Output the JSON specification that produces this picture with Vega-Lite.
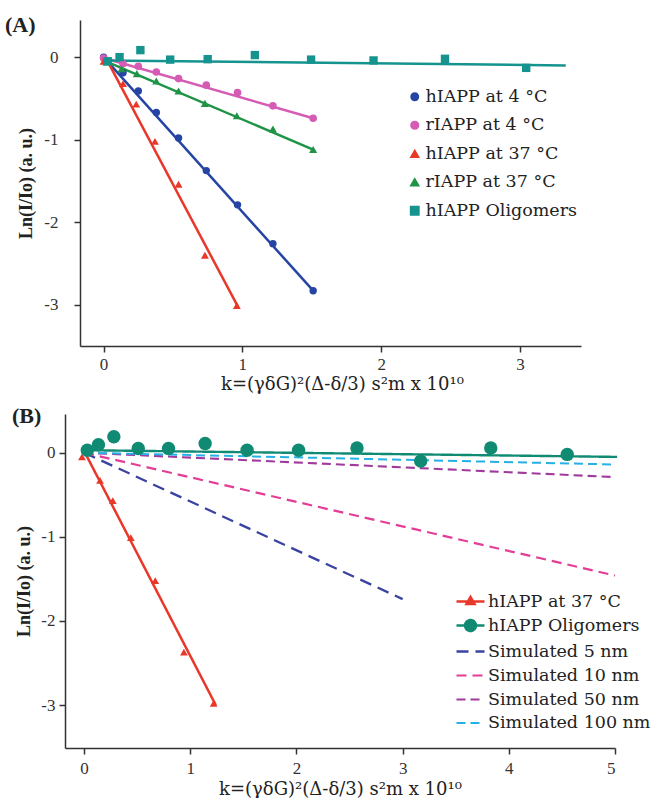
{
  "$schema": "https://vega.github.io/schema/vega-lite/v6.json",
  "background": "white",
  "padding": {"left": 5, "top": 14, "right": 0, "bottom": 0},
  "spacing": 12,
  "config": {
    "view": {"stroke": null},
    "axis": {
      "domainColor": "#333", "domainWidth": 1.5, "tickColor": "#333", "tickWidth": 1.5, "tickSize": 6,
      "grid": false, "labelFont": "Liberation Serif", "labelFontSize": 17, "labelColor": "#333",
      "titleFont": "Liberation Serif", "titleFontSize": 17, "titleColor": "#222"
    },
    "legend": {"labelFont": "DejaVu Serif", "labelFontSize": 17.5, "labelColor": "#222", "labelLimit": 300}
  },
  "resolve": {
    "scale": {"color": "independent", "shape": "independent", "size": "independent", "strokeDash": "independent", "strokeWidth": "independent"},
    "legend": {"color": "independent", "shape": "independent"}
  },
  "datasets": {
    "pointsA": [
      {"series": "hIAPP at 4 °C", "k": 0, "ln": 0},
      {"series": "hIAPP at 4 °C", "k": 0.14, "ln": -0.19},
      {"series": "hIAPP at 4 °C", "k": 0.25, "ln": -0.41},
      {"series": "hIAPP at 4 °C", "k": 0.38, "ln": -0.67},
      {"series": "hIAPP at 4 °C", "k": 0.54, "ln": -0.98},
      {"series": "hIAPP at 4 °C", "k": 0.74, "ln": -1.375},
      {"series": "hIAPP at 4 °C", "k": 0.965, "ln": -1.79},
      {"series": "hIAPP at 4 °C", "k": 1.22, "ln": -2.26},
      {"series": "hIAPP at 4 °C", "k": 1.51, "ln": -2.83},
      {"series": "rIAPP at 4 °C", "k": 0, "ln": -0.01},
      {"series": "rIAPP at 4 °C", "k": 0.14, "ln": -0.08},
      {"series": "rIAPP at 4 °C", "k": 0.25, "ln": -0.11},
      {"series": "rIAPP at 4 °C", "k": 0.38, "ln": -0.18},
      {"series": "rIAPP at 4 °C", "k": 0.54, "ln": -0.26},
      {"series": "rIAPP at 4 °C", "k": 0.74, "ln": -0.34},
      {"series": "rIAPP at 4 °C", "k": 0.965, "ln": -0.43},
      {"series": "rIAPP at 4 °C", "k": 1.22, "ln": -0.59},
      {"series": "rIAPP at 4 °C", "k": 1.51, "ln": -0.74},
      {"series": "hIAPP at 37 °C", "k": 0, "ln": -0.05},
      {"series": "hIAPP at 37 °C", "k": 0.14, "ln": -0.32},
      {"series": "hIAPP at 37 °C", "k": 0.235, "ln": -0.57},
      {"series": "hIAPP at 37 °C", "k": 0.37, "ln": -1.02},
      {"series": "hIAPP at 37 °C", "k": 0.54, "ln": -1.54},
      {"series": "hIAPP at 37 °C", "k": 0.73, "ln": -2.4},
      {"series": "hIAPP at 37 °C", "k": 0.96, "ln": -3.01},
      {"series": "rIAPP at 37 °C", "k": 0.02, "ln": -0.06},
      {"series": "rIAPP at 37 °C", "k": 0.13, "ln": -0.14},
      {"series": "rIAPP at 37 °C", "k": 0.24, "ln": -0.2},
      {"series": "rIAPP at 37 °C", "k": 0.38, "ln": -0.29},
      {"series": "rIAPP at 37 °C", "k": 0.54, "ln": -0.41},
      {"series": "rIAPP at 37 °C", "k": 0.73, "ln": -0.56},
      {"series": "rIAPP at 37 °C", "k": 0.96, "ln": -0.71},
      {"series": "rIAPP at 37 °C", "k": 1.22, "ln": -0.87},
      {"series": "rIAPP at 37 °C", "k": 1.51, "ln": -1.12},
      {"series": "hIAPP Oligomers", "k": 0.03, "ln": -0.05},
      {"series": "hIAPP Oligomers", "k": 0.115, "ln": 0.0},
      {"series": "hIAPP Oligomers", "k": 0.265, "ln": 0.085},
      {"series": "hIAPP Oligomers", "k": 0.48, "ln": -0.03},
      {"series": "hIAPP Oligomers", "k": 0.75, "ln": -0.025},
      {"series": "hIAPP Oligomers", "k": 1.09, "ln": 0.025},
      {"series": "hIAPP Oligomers", "k": 1.495, "ln": -0.03},
      {"series": "hIAPP Oligomers", "k": 1.945, "ln": -0.04},
      {"series": "hIAPP Oligomers", "k": 2.46, "ln": -0.02},
      {"series": "hIAPP Oligomers", "k": 3.045, "ln": -0.13}
    ],
    "fitA": [
      {"series": "hIAPP at 4 °C", "k": 0, "ln": 0},
      {"series": "hIAPP at 4 °C", "k": 1.51, "ln": -2.83},
      {"series": "rIAPP at 4 °C", "k": 0, "ln": -0.01},
      {"series": "rIAPP at 4 °C", "k": 1.51, "ln": -0.74},
      {"series": "hIAPP at 37 °C", "k": 0.02, "ln": -0.02},
      {"series": "hIAPP at 37 °C", "k": 0.97, "ln": -3.03},
      {"series": "rIAPP at 37 °C", "k": 0, "ln": -0.04},
      {"series": "rIAPP at 37 °C", "k": 1.51, "ln": -1.12},
      {"series": "hIAPP Oligomers", "k": 0, "ln": -0.04},
      {"series": "hIAPP Oligomers", "k": 3.33, "ln": -0.1}
    ],
    "pointsB": [
      {"series": "hIAPP at 37 °C", "k": -0.02, "ln": -0.05},
      {"series": "hIAPP at 37 °C", "k": 0.15, "ln": -0.33},
      {"series": "hIAPP at 37 °C", "k": 0.27, "ln": -0.57},
      {"series": "hIAPP at 37 °C", "k": 0.44, "ln": -1.01},
      {"series": "hIAPP at 37 °C", "k": 0.67, "ln": -1.52},
      {"series": "hIAPP at 37 °C", "k": 0.94, "ln": -2.37},
      {"series": "hIAPP at 37 °C", "k": 1.22, "ln": -2.98},
      {"series": "hIAPP Oligomers", "k": 0.03, "ln": 0.03},
      {"series": "hIAPP Oligomers", "k": 0.135, "ln": 0.095},
      {"series": "hIAPP Oligomers", "k": 0.28, "ln": 0.19},
      {"series": "hIAPP Oligomers", "k": 0.51, "ln": 0.05},
      {"series": "hIAPP Oligomers", "k": 0.795, "ln": 0.05},
      {"series": "hIAPP Oligomers", "k": 1.14, "ln": 0.11},
      {"series": "hIAPP Oligomers", "k": 1.535, "ln": 0.03},
      {"series": "hIAPP Oligomers", "k": 2.02, "ln": 0.03},
      {"series": "hIAPP Oligomers", "k": 2.57, "ln": 0.055},
      {"series": "hIAPP Oligomers", "k": 3.17, "ln": -0.1},
      {"series": "hIAPP Oligomers", "k": 3.83, "ln": 0.055},
      {"series": "hIAPP Oligomers", "k": 4.55, "ln": -0.02}
    ],
    "fitB": [
      {"series": "hIAPP at 37 °C", "k": 0, "ln": 0.02},
      {"series": "hIAPP at 37 °C", "k": 1.24, "ln": -3.0},
      {"series": "hIAPP Oligomers", "k": 0, "ln": 0.03},
      {"series": "hIAPP Oligomers", "k": 5.02, "ln": -0.05},
      {"series": "Simulated 5 nm", "k": 0, "ln": 0},
      {"series": "Simulated 5 nm", "k": 3.0, "ln": -1.74},
      {"series": "Simulated 10 nm", "k": 0, "ln": 0},
      {"series": "Simulated 10 nm", "k": 5.0, "ln": -1.46},
      {"series": "Simulated 50 nm", "k": 0, "ln": 0},
      {"series": "Simulated 50 nm", "k": 5.0, "ln": -0.29},
      {"series": "Simulated 100 nm", "k": 0, "ln": 0},
      {"series": "Simulated 100 nm", "k": 5.0, "ln": -0.14}
    ]
  },
  "vconcat": [
    {
      "width": 501,
      "height": 326,
      "title": {"text": "(A)", "anchor": "start", "frame": "group", "font": "Liberation Serif", "fontSize": 22, "fontWeight": "bold", "color": "#222", "dx": -75, "offset": -17},
      "layer": [
        {
          "data": {"name": "fitA"},
          "mark": {"type": "line", "strokeWidth": 2.5},
          "encoding": {
            "x": {"field": "k", "type": "quantitative", "scale": {"domain": [-0.17, 3.44], "nice": false, "zero": false},
              "axis": {"values": [0, 1, 2, 3], "title": "k=(γδG)²(Δ-δ/3) s²m x 10¹⁰", "titleFont": "DejaVu Serif", "titleFontWeight": "normal", "titleFontSize": 18, "titleX": 262, "labelPadding": 4, "titlePadding": 3, "labelExpr": "'' + datum.value"}},
            "y": {"field": "ln", "type": "quantitative", "scale": {"domain": [-3.5, 0.45], "nice": false, "zero": false},
              "axis": {"values": [0, -1, -2, -3], "title": "Ln(I/Io)  (a. u.)", "titleFontWeight": "bold", "titleFontSize": 18, "labelPadding": 16, "titlePadding": 8, "labelExpr": "'' + datum.value"}},
            "color": {"field": "series", "type": "nominal",
              "scale": {"domain": ["hIAPP at 4 °C", "rIAPP at 4 °C", "hIAPP at 37 °C", "rIAPP at 37 °C", "hIAPP Oligomers"],
                "range": ["#2544a3", "#d55bb5", "#e8382a", "#1f9447", "#15938e"]},
              "legend": {"title": null, "orient": "none", "legendX": 326, "legendY": 68, "symbolSize": 80, "labelOffset": 2, "rowPadding": 9.5, "symbolOpacity": 1}},
            "detail": {"field": "series"}
          }
        },
        {
          "data": {"name": "pointsA"},
          "mark": {"type": "point", "filled": true, "opacity": 1},
          "encoding": {
            "x": {"field": "k", "type": "quantitative"},
            "y": {"field": "ln", "type": "quantitative"},
            "color": {"field": "series", "type": "nominal",
              "legend": {"title": null, "orient": "none", "legendX": 326, "legendY": 68, "symbolSize": 80, "labelOffset": 2, "rowPadding": 9.5, "symbolOpacity": 1}},
            "shape": {"field": "series", "type": "nominal",
              "scale": {"domain": ["hIAPP at 4 °C", "rIAPP at 4 °C", "hIAPP at 37 °C", "rIAPP at 37 °C", "hIAPP Oligomers"],
                "range": ["circle", "circle", "triangle-up", "triangle-up", "square"]},
              "legend": {"title": null, "orient": "none", "legendX": 326, "legendY": 68, "symbolSize": 80, "labelOffset": 2, "rowPadding": 9.5, "symbolOpacity": 1}},
            "size": {"field": "series", "type": "nominal",
              "scale": {"domain": ["hIAPP at 4 °C", "rIAPP at 4 °C", "hIAPP at 37 °C", "rIAPP at 37 °C", "hIAPP Oligomers"],
                "range": [55, 70, 70, 90, 100]},
              "legend": null}
          }
        }
      ]
    },
    {
      "width": 535,
      "height": 334,
      "title": {"text": "(B)", "anchor": "start", "frame": "group", "font": "Liberation Serif", "fontSize": 22, "fontWeight": "bold", "color": "#222", "dx": -68, "offset": -14},
      "layer": [
        {
          "data": {"name": "fitB"},
          "mark": {"type": "line"},
          "encoding": {
            "x": {"field": "k", "type": "quantitative", "scale": {"domain": [-0.18, 5.0], "range": [-15, 535], "nice": false, "zero": false},
              "axis": {"values": [0, 1, 2, 3, 4, 5], "title": "k=(γδG)²(Δ-δ/3) s²m x 10¹⁰", "titleFont": "DejaVu Serif", "titleFontWeight": "normal", "titleFontSize": 18, "labelPadding": 6, "titlePadding": 4, "labelExpr": "'' + datum.value"}},
            "y": {"field": "ln", "type": "quantitative", "scale": {"domain": [-3.51, 0.46], "nice": false, "zero": false},
              "axis": {"values": [0, -1, -2, -3], "offset": 15, "title": "Ln(I/Io)  (a. u.)", "titleFontWeight": "bold", "titleFontSize": 18, "labelPadding": 4, "titlePadding": 7, "labelExpr": "'' + datum.value"}},
            "color": {"field": "series", "type": "nominal",
              "scale": {"domain": ["hIAPP at 37 °C", "hIAPP Oligomers", "Simulated 5 nm", "Simulated 10 nm", "Simulated 50 nm", "Simulated 100 nm"],
                "range": ["#e8382a", "#108a72", "#3b43a0", "#e43d95", "#a13a9d", "#25b0e6"]},
              "legend": {"title": null, "orient": "none", "legendX": 379, "legendY": 176, "symbolSize": 400, "labelOffset": 6, "rowPadding": 4, "symbolStrokeWidth": 2.5,
                "encode": {"symbols": {"update": {
                  "shape": {"signal": "datum.value === 'hIAPP at 37 °C' ? 'M-1.4,0H1.4M0,-0.45L0.4,0.25L-0.4,0.25Z' : datum.value === 'hIAPP Oligomers' ? 'M-1.4,0H1.4M0.55,0A0.55,0.55 0 1,1 -0.55,0A0.55,0.55 0 1,1 0.55,0Z' : 'M-1.4,0H1.4'"},
                  "fill": {"signal": "datum.value === 'hIAPP at 37 °C' ? '#e8382a' : datum.value === 'hIAPP Oligomers' ? '#108a72' : 'transparent'"},
                  "stroke": {"signal": "datum.value === 'hIAPP at 37 °C' ? '#e8382a' : datum.value === 'hIAPP Oligomers' ? '#108a72' : datum.value === 'Simulated 5 nm' ? '#3b43a0' : datum.value === 'Simulated 10 nm' ? '#e43d95' : datum.value === 'Simulated 50 nm' ? '#a13a9d' : '#25b0e6'"},
                  "strokeDash": {"signal": "(datum.value === 'hIAPP at 37 °C' || datum.value === 'hIAPP Oligomers') ? [1, 0] : [8, 4]"},
                  "strokeWidth": {"value": 3},
                  "opacity": {"value": 1}
                }}}}},
            "strokeDash": {"field": "series", "type": "nominal",
              "scale": {"domain": ["hIAPP at 37 °C", "hIAPP Oligomers", "Simulated 5 nm", "Simulated 10 nm", "Simulated 50 nm", "Simulated 100 nm"],
                "range": [[1, 0], [1, 0], [12, 7], [10, 6], [9, 5], [9, 5]]},
              "legend": null},
            "strokeWidth": {"field": "series", "type": "nominal",
              "scale": {"domain": ["hIAPP at 37 °C", "hIAPP Oligomers", "Simulated 5 nm", "Simulated 10 nm", "Simulated 50 nm", "Simulated 100 nm"],
                "range": [2.5, 2, 4, 4, 4, 4]},
              "legend": null}
          }
        },
        {
          "data": {"name": "pointsB"},
          "mark": {"type": "point", "filled": true, "opacity": 1},
          "encoding": {
            "x": {"field": "k", "type": "quantitative"},
            "y": {"field": "ln", "type": "quantitative"},
            "color": {"field": "series", "type": "nominal", "legend": null},
            "shape": {"field": "series", "type": "nominal",
              "scale": {"domain": ["hIAPP at 37 °C", "hIAPP Oligomers"], "range": ["triangle-up", "circle"]},
              "legend": null},
            "size": {"field": "series", "type": "nominal",
              "scale": {"domain": ["hIAPP at 37 °C", "hIAPP Oligomers"], "range": [60, 180]},
              "legend": null}
          }
        }
      ]
    }
  ]
}
